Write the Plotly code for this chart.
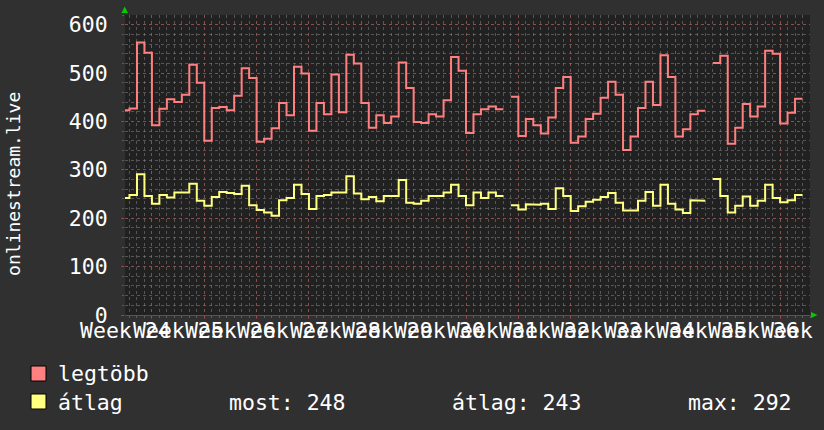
import numpy as np
import plotly.graph_objects as go

# valori giornalieri (giorno 0 = inizio della prima settimana piena)
giorno_inizio = -4
legtobb = [423, 427, 563, 542, 392, 426, 446, 440, 455, 517, 480, 360, 428, 430, 423,
           453, 510, 490, 358, 364, 386, 438, 413, 513, 499, 381, 438, 415, 497, 419,
           538, 520, 438, 387, 413, 397, 410, 522, 469, 399, 397, 415, 410, 444, 533,
           505, 376, 415, 425, 431, 425, None, 451, 370, 405, 392, 375, 408, 469, 492,
           356, 369, 405, 416, 449, 482, 455, 341, 369, 428, 482, 434, 537, 492, 369,
           384, 415, 422, None, 521, 536, 354, 387, 436, 410, 431, 546, 540, 396, 418,
           447]
atlag = [242, 248, 291, 246, 230, 248, 243, 253, 253, 271, 236, 226, 244, 254, 252,
         250, 267, 227, 217, 212, 205, 237, 242, 269, 250, 219, 246, 248, 253, 253,
         287, 251, 239, 244, 235, 246, 246, 279, 232, 230, 236, 246, 246, 253, 269,
         246, 227, 253, 242, 253, 246, None, 227, 218, 229, 228, 230, 219, 262, 246,
         215, 225, 234, 238, 244, 252, 232, 216, 216, 236, 254, 226, 269, 230, 218,
         211, 237, 236, None, 281, 246, 212, 226, 245, 226, 236, 269, 242, 233, 237,
         248]
settimane = [f"Week {n}" for n in range(24, 38)]
y_ticks = [0, 100, 200, 300, 400, 500, 600]
legenda_atlag = ["most: 248", "átlag: 243", "max: 292"]

FONT = "DejaVu Sans Mono"
FS = 21.5
ROSSO = "#ff8080"
GIALLO = "#ffff80"
GRID_MIN = "rgba(150,150,150,0.45)"
GRID_MAJ = "rgba(200,70,70,0.5)"


def gradini(valori, inizio):
    # linea a gradini: ogni valore copre un giorno intero
    xs, ys = [], []
    for i, v in enumerate(valori):
        d = inizio + i
        if v is None:
            xs.append(None)
            ys.append(None)
            continue
        xs += [d, d + 1]
        ys += [v, v]
    return xs, ys


fig = go.Figure()
for valori, colore, nome in [(legtobb, ROSSO, "legtöbb"), (atlag, GIALLO, "átlag")]:
    xs, ys = gradini(valori, giorno_inizio)
    fig.add_trace(go.Scatter(x=xs, y=ys, mode="lines", name=nome,
                             line=dict(color=colore, width=2), connectgaps=False,
                             showlegend=False))

annotazioni = []
for k, testo in enumerate(settimane):
    annotazioni.append(dict(x=-3.5 + 7 * k, y=-0.05, xref="x", yref="paper", text=testo,
                            showarrow=False, xanchor="center", yanchor="middle",
                            font=dict(family=FONT, size=FS, color="white")))
annotazioni.append(dict(x=-0.162, y=0.437, xref="paper", yref="paper", text="onlinestream.live",
                        textangle=-90, showarrow=False, xanchor="center", yanchor="middle",
                        font=dict(family=FONT, size=18, color="white")))


def px(X):
    return (X - 125) / 685


def py(Y):
    return (315 - Y) / 300


# legenda
for testo, Y in [("legtöbb", 373), ("átlag", 402)]:
    annotazioni.append(dict(x=px(56), y=py(Y), xref="paper", yref="paper", text=testo,
                            showarrow=False, xanchor="left", yanchor="middle",
                            font=dict(family=FONT, size=FS, color="white")))
for testo, X in zip(legenda_atlag, [227, 450, 686]):
    annotazioni.append(dict(x=px(X), y=py(402), xref="paper", yref="paper", text=testo,
                            showarrow=False, xanchor="left", yanchor="middle",
                            font=dict(family=FONT, size=FS, color="white")))

forme = []
for colore, Y0 in [(ROSSO, 366), (GIALLO, 394)]:
    forme.append(dict(type="rect", xref="paper", yref="paper", x0=px(31), x1=px(46),
                      y0=py(Y0 + 15), y1=py(Y0), fillcolor=colore,
                      line=dict(color="black", width=1)))
# frecce verdi degli assi
forme.append(dict(type="path", xref="paper", yref="paper", fillcolor="#00cc00",
                  line=dict(width=0),
                  path=f"M {px(121.5)} {py(13)} L {px(128)} {py(13)} L {px(124.7)} {py(6.5)} Z"))
forme.append(dict(type="path", xref="paper", yref="paper", fillcolor="#00cc00",
                  line=dict(width=0),
                  path=f"M {px(811)} {py(312)} L {px(811)} {py(318)} L {px(817.5)} {py(315)} Z"))

fig.update_layout(
    width=824, height=430,
    margin=dict(l=125, r=14, t=15, b=115),
    paper_bgcolor="#303030",
    plot_bgcolor="#212121",
    showlegend=False,
    annotations=annotazioni,
    shapes=forme,
    xaxis=dict(
        range=[-3.6, 88],
        tickmode="array",
        tickvals=list(range(0, 85, 7)),
        showticklabels=False,
        showgrid=True, gridcolor=GRID_MAJ, griddash="dot", gridwidth=1,
        ticks="outside", ticklen=3, tickcolor=GRID_MAJ,
        minor=dict(dtick=1, tick0=0, showgrid=True, gridcolor=GRID_MIN, griddash="dot",
                   ticks="outside", ticklen=2, tickcolor=GRID_MIN),
        zeroline=False, showline=True, linecolor="#555555",
    ),
    yaxis=dict(
        range=[0, 620],
        tickmode="array",
        tickvals=y_ticks,
        ticktext=[str(v) for v in y_ticks],
        tickfont=dict(family=FONT, size=FS, color="white"),
        showgrid=True, gridcolor=GRID_MAJ, griddash="dot", gridwidth=1,
        ticks="outside", ticklen=3, tickcolor=GRID_MAJ,
        ticklabelstandoff=9,
        minor=dict(dtick=20, tick0=0, showgrid=True, gridcolor=GRID_MIN, griddash="dot",
                   ticks="outside", ticklen=2, tickcolor=GRID_MIN),
        zeroline=False, showline=False,
    ),
)

fig.write_html("out.html", config={"displayModeBar": False},
               post_script="document.body.style.margin='0';")
